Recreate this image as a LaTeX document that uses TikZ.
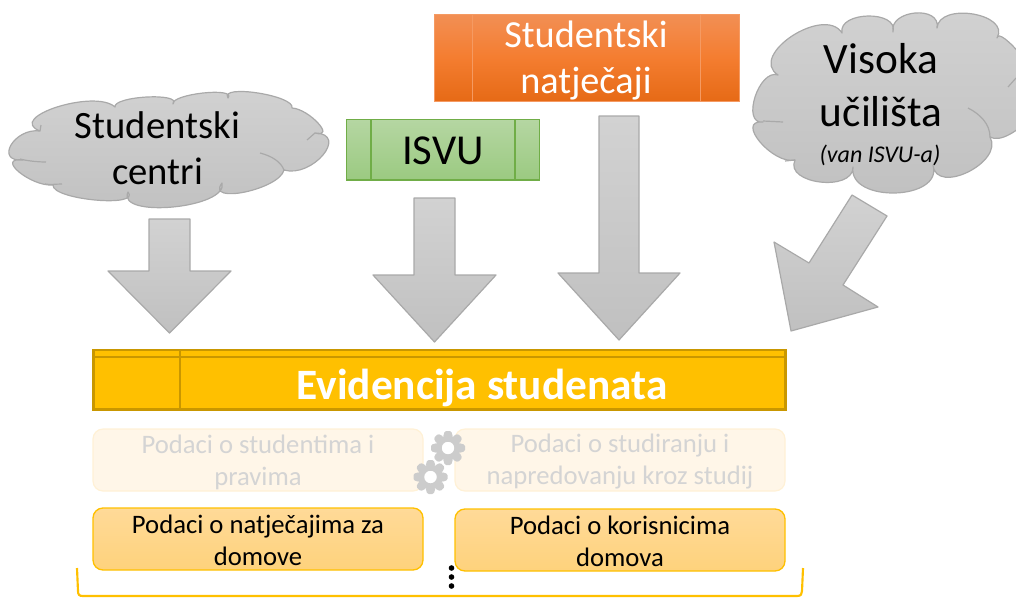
\documentclass[tikz,border=0pt]{standalone}
\usepackage{fontspec}
\setmainfont{Carlito}
\usetikzlibrary{calc}
\definecolor{gs}{HTML}{A9A9A9}
\definecolor{gt}{HTML}{D2D2D2}
\definecolor{gb}{HTML}{C0C0C0}
\definecolor{amber}{HTML}{FFC000}
\definecolor{amberd}{HTML}{BF9000}
\definecolor{fadetxt}{HTML}{D4D4D4}
\definecolor{fadefill}{HTML}{FFF6E8}
\definecolor{fadeline}{HTML}{FFF1D6}
\definecolor{orgT}{HTML}{F28F54}
\definecolor{orgM}{HTML}{F47D30}
\definecolor{orgB}{HTML}{E66A16}
\definecolor{orgL}{HTML}{F59A62}
\definecolor{grnS}{HTML}{70AD47}
\definecolor{grnT}{HTML}{B5D6A2}
\definecolor{grnB}{HTML}{9BCA81}
\definecolor{softT}{HTML}{FFDA98}
\definecolor{softB}{HTML}{FED27C}
\definecolor{gearc}{HTML}{CCCCCC}
\tikzset{
  greyshape/.style={draw=gs,line width=0.9pt,top color=gt,bottom color=gb,line join=round},
  orangebox/.style={draw=orgL,line width=0.7pt,top color=orgT,bottom color=orgB,middle color=orgM},
  greenbox/.style={draw=grnS,line width=1pt,top color=grnT,bottom color=grnB},
  txt/.style={inner sep=0pt,align=center,text=black},
  fadedbox/.style={draw=fadeline,line width=0.9pt,fill=fadefill,rounded corners=7.5pt},
  softbox/.style={draw=amber,line width=1pt,top color=softT,bottom color=softB,rounded corners=7.5pt},
  gearshape/.style={fill=gearc,draw=none},
  cloudline/.style={draw=gs,line width=0.9pt,fill=none}
}
\def\lobe(#1)(#2)(#3){.. controls ($0.433*(#1)+1.333*(#2)-0.766*(#3)$) and ($0.433*(#3)+1.333*(#2)-0.766*(#1)$) .. (#3)}
\newcommand{\gearat}[2]{%
  \fill[gearshape,even odd rule] (#1,#2) circle[radius=12.5] (#1,#2) circle[radius=6.3];
  \foreach \a in {0,45,...,315}{
    \fill[gearshape,shift={(#1,#2)},rotate=\a,rounded corners=1pt] (11,-5) -- (17,-3.2) -- (17,3.2) -- (11,5) -- cycle;
  }}
\begin{document}
\begin{tikzpicture}[x=0.75pt,y=-0.75pt]
\useasboundingbox (0,0) rectangle (1016,597);

% left cloud
\draw[greyshape] (40,131) \lobe(40,131)(57,107)(115,107) \lobe(115,107)(147,97)(173,104) \lobe(173,104)(203,93)(228,98) \lobe(228,98)(258,93)(292,108) \lobe(292,108)(318,123)(315,133) \lobe(315,133)(323,155)(284,170) \lobe(284,170)(245,192)(222,183) \lobe(222,183)(173,207)(128,192) \lobe(128,192)(95,200)(53,185) \lobe(53,185)(19,172)(23,160) \lobe(23,160)(11,145)(40,131) -- cycle;
\draw[cloudline] (260,153) .. controls (272,156) and (281,162) .. (284,170);
\draw[cloudline] (315,133) -- (307,140);
\draw[cloudline] (20,159) .. controls (28,161) and (38,162) .. (46,162);
\draw[cloudline] (45,184) .. controls (50,185) and (56,184) .. (62,184);
\draw[cloudline] (40,131) -- (41,125);
\node[txt,font=\fontsize{29}{34.5}\selectfont] (sc) at (157.5,148) {Studentski\\centri};

% right cloud
\draw[greyshape] (778,75) \lobe(778,75)(792,36)(842,33) \lobe(842,33)(868,16)(893,32) \lobe(893,32)(915,13)(937,28) \lobe(937,28)(973,14)(997,38) \lobe(997,38)(1021,55)(1036,85) \lobe(1036,85)(1032,116)(990,137) \lobe(990,137)(968,172)(933,165) \lobe(933,165)(895,193)(853,167) \lobe(853,167)(820,182)(795,160) \lobe(795,160)(760,142)(763,122) \lobe(763,122)(755,97)(778,75) -- cycle;
\draw[cloudline] (968,108) .. controls (980,114) and (990,124) .. (990,137);
\draw[cloudline] (763,121) -- (783,122);
\draw[cloudline] (795,160) -- (785,161);
\draw[cloudline] (1008,87) -- (1016,78);
\node[txt,font=\fontsize{32.5}{39.5}\selectfont] (vu) at (881,85) {Visoka\\učilišta};
\node[txt,font=\itshape\fontsize{18}{20}\selectfont] (vi) at (880,155.5) {(van ISVU-a)};

% orange box
\draw[orangebox] (434.5,14.5) rectangle (739,101);
\draw[draw=orgL,line width=0.5pt] (472.5,14.5) -- (472.5,101) (700.5,14.5) -- (700.5,101);
\node[txt,text=white,font=\fontsize{28.7}{34.5}\selectfont] (sn) at (586,60.5) {Studentski\\natječaji};

% green box
\draw[greenbox] (346.5,119.5) rectangle (539.5,180);
\draw[draw=grnS,line width=1pt] (371,119.5) -- (371,180) (515,119.5) -- (515,180);
\node[txt,font=\fontsize{32}{36}\selectfont] (isvu) at (443,151) {ISVU};

% block arrows
\draw[greyshape] (149,219) -- (190,219) -- (190,271) -- (231,271) -- (169.5,333) -- (108,271) -- (149,271) -- cycle;
\draw[greyshape] (414,198) -- (455,198) -- (455,275) -- (496,275) -- (434.5,342) -- (373,275) -- (414,275) -- cycle;
\draw[greyshape] (599,116) -- (639,116) -- (639,273) -- (680,273) -- (619,340) -- (558,273) -- (599,273) -- cycle;
\draw[greyshape] (852,195) -- (887,216) -- (843,285) -- (878,307) -- (791,331) -- (774,242) -- (809,263) -- cycle;

% main bar
\draw[fill=amber,draw=amberd!85!amber,line width=1.8pt] (93.5,350) rectangle (785.5,409.5);
\draw[draw=amberd!85!amber,line width=1.6pt] (93.5,357) -- (785.5,357) (180,350) -- (180,409.5);
\node[txt,text=white,font=\bfseries\fontsize{32.5}{36}\selectfont] (ev) at (482,387.5) {Evidencija studenata};

% faded boxes
\draw[fadedbox] (93,429) rectangle (423,491);
\draw[fadedbox] (455,429) rectangle (785,491);
\node[txt,text=fadetxt,font=\fontsize{20}{24}\selectfont] (f1) at (258,462) {Podaci o studentima i\\pravima};
\node[txt,text=fadetxt,font=\fontsize{20}{24}\selectfont] (f2) at (620,462) {Podaci o studiranju i\\napredovanju kroz studij};

% gears
\gearat{448}{448}
\gearat{430.5}{477}

% soft boxes
\draw[softbox] (93,508) rectangle (423,570);
\draw[softbox] (455,509) rectangle (785,571);
\node[txt,font=\fontsize{20}{24}\selectfont] (s1) at (258,540.5) {Podaci o natječajima za\\domove};
\node[txt,font=\fontsize{20}{24}\selectfont] (s2) at (620,541.5) {Podaci o korisnicima\\domova};

% dots and bracket
\foreach \yy in {568,577,586}{\fill[black] (451.5,\yy) circle[radius=2.8];}
\draw[amber,line width=1.6pt] (77,568) -- (78,591) .. controls (78,594.5) and (79,596) .. (83,596) -- (797,596) .. controls (801,596) and (802,594) .. (802,591) -- (803,568);
\end{tikzpicture}
\end{document}
